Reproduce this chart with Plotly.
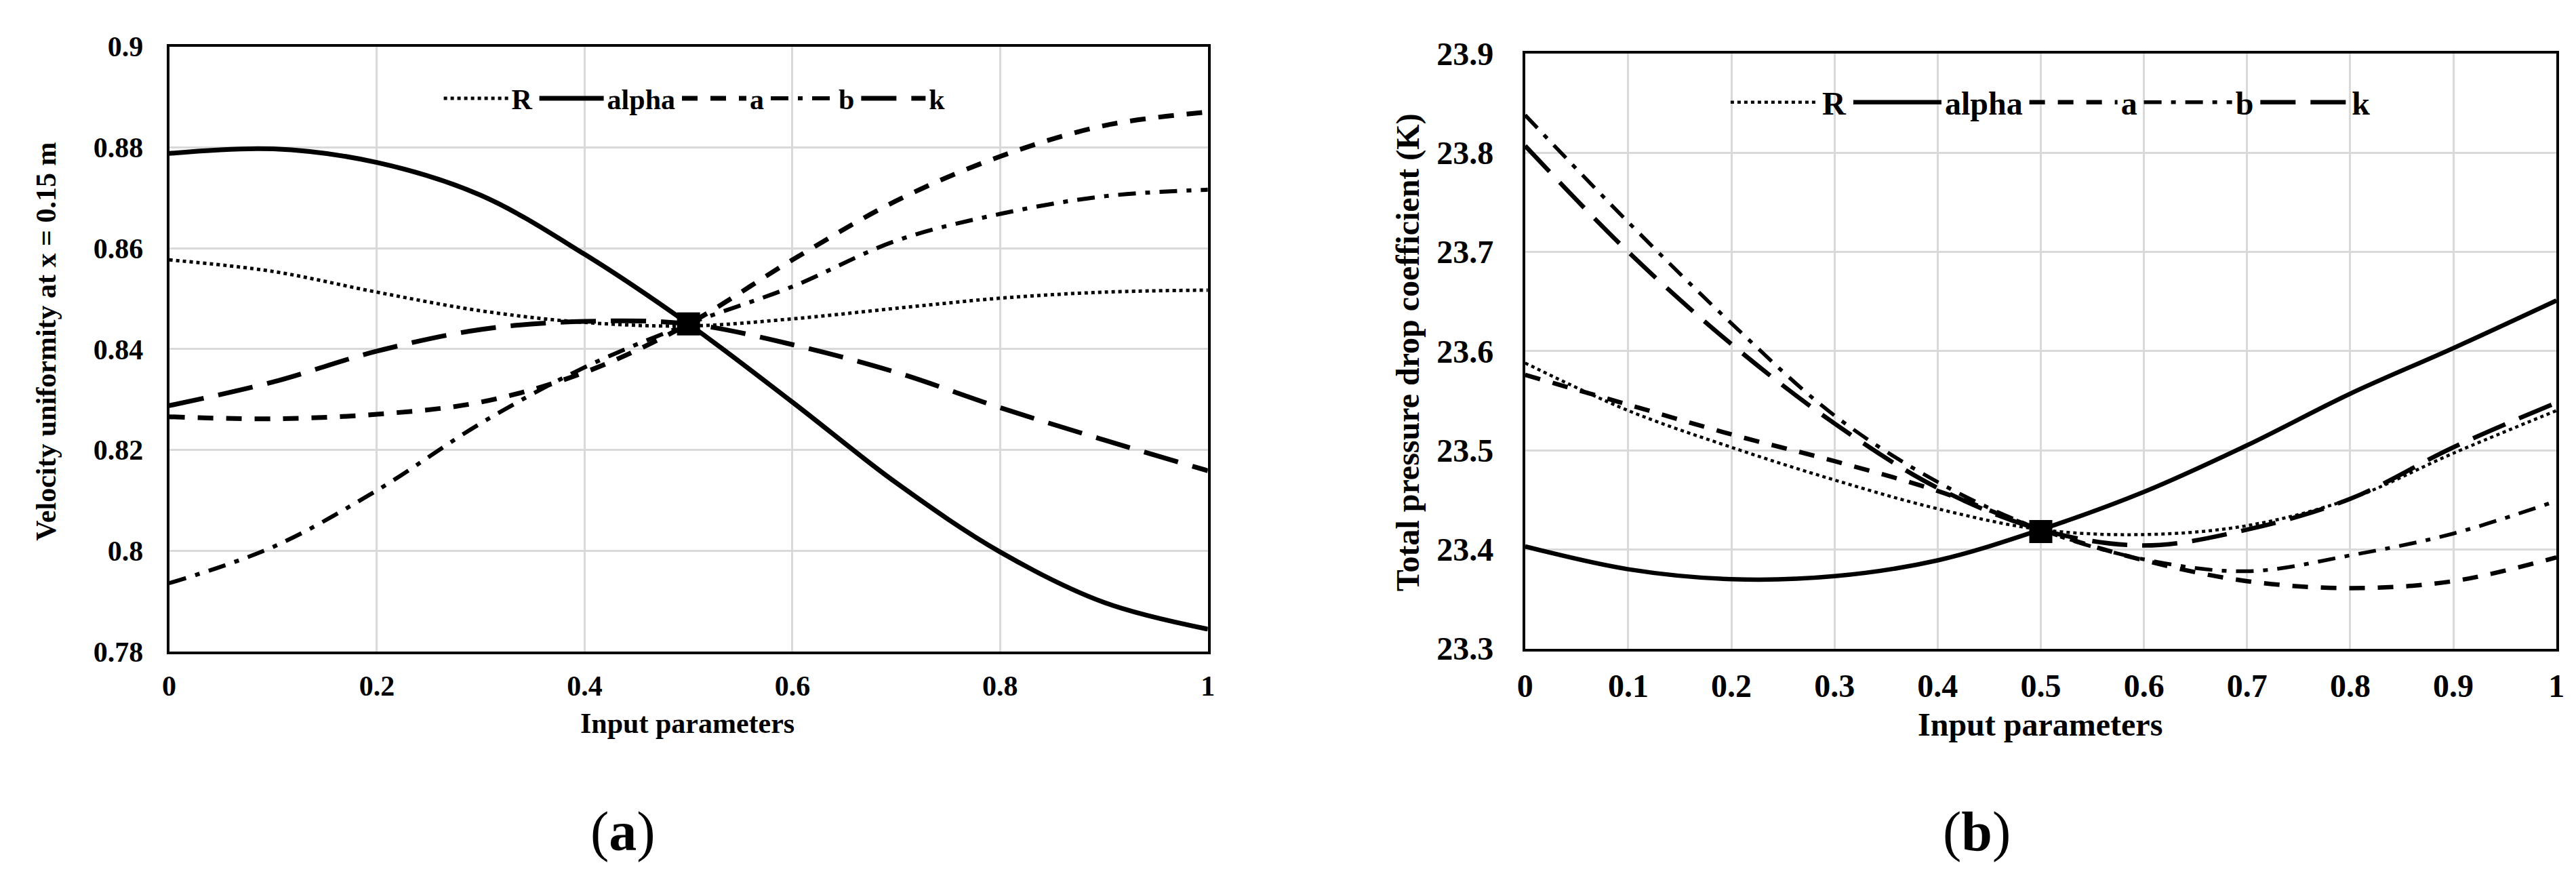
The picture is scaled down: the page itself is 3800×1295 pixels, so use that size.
import plotly.graph_objects as go

# Normalised input parameter values (shared x for every series)
x_param = [0.0, 0.1, 0.2, 0.3, 0.4, 0.5, 0.6, 0.7, 0.8, 0.9, 1.0]
series_names = ["R", "alpha", "a", "b", "k"]

# (a) Velocity uniformity at x = 0.15 m
vu_R = [0.8577, 0.8554, 0.8513, 0.8476, 0.8453, 0.8446, 0.8460, 0.8481, 0.8501, 0.8513, 0.8517]
vu_alpha = [0.8788, 0.8797, 0.8770, 0.8705, 0.8588, 0.8450, 0.8295, 0.8135, 0.7998, 0.7898, 0.7845]
vu_a = [0.8266, 0.8262, 0.8271, 0.8295, 0.8354, 0.8450, 0.8577, 0.8694, 0.8782, 0.8843, 0.8870]
vu_b = [0.7936, 0.8008, 0.8120, 0.8253, 0.8364, 0.8450, 0.8524, 0.8615, 0.8668, 0.8703, 0.8716]
vu_k = [0.8288, 0.8335, 0.8396, 0.8439, 0.8455, 0.8450, 0.8409, 0.8354, 0.8284, 0.8220, 0.8159]

# (b) Total pressure drop coefficient (K)
kp_R = [23.588, 23.540, 23.503, 23.470, 23.441, 23.420, 23.415, 23.424, 23.451, 23.497, 23.540]
kp_alpha = [23.403, 23.380, 23.370, 23.373, 23.389, 23.420, 23.458, 23.505, 23.557, 23.603, 23.651]
kp_a = [23.576, 23.546, 23.516, 23.489, 23.459, 23.420, 23.389, 23.368, 23.361, 23.368, 23.392]
kp_b = [23.838, 23.730, 23.628, 23.535, 23.468, 23.420, 23.390, 23.378, 23.394, 23.416, 23.449]
kp_k = [23.807, 23.700, 23.607, 23.527, 23.462, 23.420, 23.404, 23.420, 23.451, 23.503, 23.548]

# common (baseline) design point
base_x = [0.5]
vu_base = [0.845]
kp_base = [23.418]

# axis ticks
vu_xticks = [0, 0.2, 0.4, 0.6, 0.8, 1]
vu_xtext = ["0", "0.2", "0.4", "0.6", "0.8", "1"]
vu_yticks = [0.78, 0.80, 0.82, 0.84, 0.86, 0.88, 0.90]
vu_ytext = ["0.78", "0.8", "0.82", "0.84", "0.86", "0.88", "0.9"]
kp_xticks = [0, 0.1, 0.2, 0.3, 0.4, 0.5, 0.6, 0.7, 0.8, 0.9, 1]
kp_xtext = ["0", "0.1", "0.2", "0.3", "0.4", "0.5", "0.6", "0.7", "0.8", "0.9", "1"]
kp_yticks = [23.3, 23.4, 23.5, 23.6, 23.7, 23.8, 23.9]
kp_ytext = ["23.3", "23.4", "23.5", "23.6", "23.7", "23.8", "23.9"]

FONT = "Liberation Serif, Times New Roman, serif"
GRID = "#d9d9d9"

# line style per parameter
dashes = {
    "R": "5px,5px",
    "alpha": "solid",
    "a": "23px,19px",
    "b": "26px,14px,7px,14px",
    "k": "52px,22px",
}
widths = {"R": 5, "alpha": 7, "a": 7, "b": 6, "k": 7}

vu_series = [vu_R, vu_alpha, vu_a, vu_b, vu_k]
kp_series = [kp_R, kp_alpha, kp_a, kp_b, kp_k]

fig = go.Figure()

for name, ys in zip(series_names, vu_series):
    fig.add_trace(go.Scatter(
        x=x_param, y=ys, name=name, mode="lines",
        line=dict(color="black", width=widths[name], dash=dashes[name],
                  shape="spline", smoothing=1.0),
        xaxis="x", yaxis="y", legend="legend",
    ))
fig.add_trace(go.Scatter(
    x=base_x, y=vu_base, mode="markers", showlegend=False,
    marker=dict(symbol="square", size=34, color="black"),
    xaxis="x", yaxis="y",
))

for name, ys in zip(series_names, kp_series):
    fig.add_trace(go.Scatter(
        x=x_param, y=ys, name=name, mode="lines",
        line=dict(color="black", width=widths[name] - 0.5, dash=dashes[name],
                  shape="spline", smoothing=1.0),
        xaxis="x2", yaxis="y2", legend="legend2",
    ))
fig.add_trace(go.Scatter(
    x=base_x, y=kp_base, mode="markers", showlegend=False,
    marker=dict(symbol="square", size=34, color="black"),
    xaxis="x2", yaxis="y2",
))

W, H = 3800, 1295


def axis_style(size, tickvals, ticktext, rng, domain, anchor, standoff):
    return dict(
        domain=domain, anchor=anchor, range=rng,
        tickvals=tickvals, ticktext=ticktext,
        showgrid=True, gridcolor=GRID, gridwidth=3,
        showline=True, linecolor="black", linewidth=4, mirror=True,
        zeroline=False, ticks="", ticklabelstandoff=standoff,
        tickfont=dict(family=FONT, size=size, color="black", weight="bold"),
    )


fig.update_layout(
    width=W, height=H,
    margin=dict(l=0, r=0, t=0, b=0),
    paper_bgcolor="white", plot_bgcolor="white",
    showlegend=True,
    xaxis=axis_style(42, vu_xticks, vu_xtext, [0, 1],
                     [231 / W, 1773 / W], "y", 10),
    yaxis=axis_style(42, vu_yticks, vu_ytext, [0.78, 0.9],
                     [1 - 967 / H, 1 - 36 / H], "x", 26),
    xaxis2=axis_style(48, kp_xticks, kp_xtext, [0, 1],
                      [2244 / W, 3775 / W], "y2", 10),
    yaxis2=axis_style(48, kp_yticks, kp_ytext, [23.3, 23.9],
                      [1 - 962 / H, 1 - 47 / H], "x2", 33),
    legend=dict(
        orientation="h", x=1011 / W, y=1 - 116 / H,
        xanchor="center", yanchor="middle",
        bgcolor="rgba(0,0,0,0)", itemwidth=95,
        font=dict(family=FONT, size=42, color="black", weight="bold"),
    ),
    legend2=dict(
        orientation="h", x=3024 / W, y=1 - 122 / H,
        xanchor="center", yanchor="middle",
        bgcolor="rgba(0,0,0,0)", itemwidth=130,
        font=dict(family=FONT, size=48, color="black", weight="bold"),
    ),
)

bold = dict(family=FONT, color="black", weight="bold")
centred = dict(xref="paper", yref="paper", showarrow=False,
               xanchor="center", yanchor="middle")
fig.add_annotation(
    text="Velocity uniformity at x = 0.15 m", textangle=-90,
    x=48 / W, y=1 - 490 / H, font=dict(size=42, **bold), **centred,
)
fig.add_annotation(
    text="Total pressure drop coefficient (K)", textangle=-90,
    x=2070 / W, y=1 - 506 / H, font=dict(size=48, **bold), **centred,
)
fig.add_annotation(
    text="Input parameters", x=1000 / W, y=1 - 1077 / H,
    font=dict(size=42, **bold), **centred,
)
fig.add_annotation(
    text="Input parameters", x=3008 / W, y=1 - 1079 / H,
    font=dict(size=48, **bold), **centred,
)
for lbl, xc in [("a", 905), ("b", 2914)]:
    fig.add_annotation(
        text=f"(<b>{lbl}</b>)", x=xc / W, y=1 - 1243 / H,
        font=dict(family=FONT, size=82, color="black"), **centred,
    )

fig.write_html("out.html")
